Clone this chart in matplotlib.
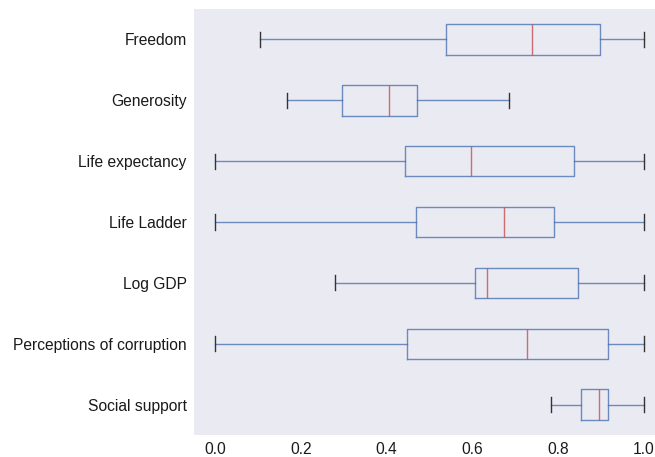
import matplotlib
matplotlib.use("Agg")
import matplotlib.pyplot as plt

categories = ["Social support", "Perceptions of corruption", "Log GDP", "Life Ladder",
              "Life expectancy", "Generosity", "Freedom"]
whislo = [0.783, 0.0, 0.280, 0.0, 0.0, 0.168, 0.106]
q1 = [0.853, 0.448, 0.605, 0.469, 0.442, 0.297, 0.539]
med = [0.896, 0.727, 0.635, 0.674, 0.597, 0.406, 0.740]
q3 = [0.915, 0.915, 0.847, 0.789, 0.836, 0.470, 0.897]
whishi = [1.0, 1.0, 1.0, 1.0, 1.0, 0.685, 1.0]

plt.rcParams['font.family'] = ['Liberation Sans', 'DejaVu Sans']

fig = plt.figure(figsize=(6.55, 4.57), dpi=100)
ax = fig.add_axes([193.5 / 655, 22 / 457, 472 / 655, 426 / 457])
ax.set_facecolor("#EAEAF2")
for s in ax.spines.values():
    s.set_visible(False)

stats = []
for i, c in enumerate(categories):
    stats.append(dict(label=c, whislo=whislo[i], q1=q1[i], med=med[i], q3=q3[i],
                      whishi=whishi[i], fliers=[]))

blue = "#4C72B0"
ax.bxp(stats, positions=range(1, len(categories) + 1), vert=False, widths=0.5,
       showfliers=False,
       boxprops=dict(color=blue, linewidth=1.0, alpha=0.8),
       whiskerprops=dict(color=blue, linewidth=1.0, alpha=0.8),
       capprops=dict(color="#333333", linewidth=1.0),
       medianprops=dict(color="#C44E52", linewidth=1.0, alpha=0.8))

ax.set_xlim(-0.05, 1.05)
ax.set_ylim(0.5, len(categories) + 0.5)
ax.set_xticks([0.0, 0.2, 0.4, 0.6, 0.8, 1.0])
ax.set_xticklabels(["0.0", "0.2", "0.4", "0.6", "0.8", "1.0"])
ax.tick_params(axis="both", length=0, labelsize=11.25, colors="#1a1a1a", pad=5)
ax.grid(False)

fig.savefig("out.png", dpi=100)
